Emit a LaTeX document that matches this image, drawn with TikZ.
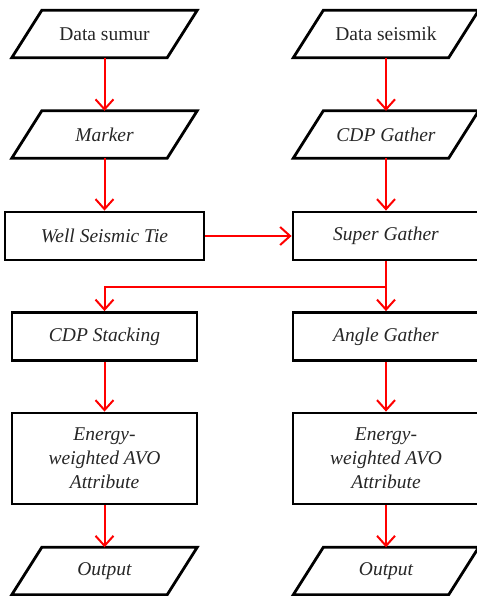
\documentclass[tikz,border=0pt]{standalone}
\usepackage{fontspec}
\setmainfont{Liberation Serif}
\usetikzlibrary{arrows.meta}
\tikzset{
  every node/.style={font=\fontsize{19.5}{24}\selectfont, text=black!85, align=center},
  para/.style={minimum width=155, minimum height=47, inner sep=0},
  paraline/.style={draw=black, line width=2.8, line join=miter},
  box/.style={draw=black, line width=2.8, inner sep=0, minimum height=48},
  flow/.style={draw=red, line width=2, -{Straight Barb[length=10pt, width=18pt, line width=2pt]}},
}
\newcommand{\paraoutline}[1]{%
  \draw[paraline] ([xshift=15]#1.north west) -- ([xshift=15]#1.north east)
    -- ([xshift=-15]#1.south east) -- ([xshift=-15]#1.south west) -- cycle;}
\begin{document}
\begin{tikzpicture}[x=1pt, y=-1pt]
\useasboundingbox (0,0) rectangle (476,596);
% left column
\node[para] (sumur) at (104.5,34) {Data sumur};
\node[para] (marker) at (104.5,134.5) {\itshape Marker};
\node[box, minimum width=199] (wst) at (104.5,236) {\itshape Well Seismic Tie};
\node[box, minimum width=185] (cdps) at (104.5,336.5) {\itshape CDP Stacking};
\node[box, minimum width=185, minimum height=91] (ewl) at (104.5,458.5) {\itshape Energy-\\\itshape weighted AVO\\\itshape Attribute};
\node[para] (outl) at (104.5,571) {\itshape Output};
% right column
\node[para] (seis) at (386,34) {Data seismik};
\node[para] (cdpg) at (386,134.5) {\itshape CDP Gather};
\node[box, minimum width=186] (sg) at (386,236) {\itshape Super Gather};
\node[box, minimum width=186] (ag) at (386,336.5) {\itshape Angle Gather};
\node[box, minimum width=186, minimum height=91] (ewr) at (386,458.5) {\itshape Energy-\\\itshape weighted AVO\\\itshape Attribute};
\node[para] (outr) at (386,571) {\itshape Output};
\paraoutline{sumur}
\paraoutline{marker}
\paraoutline{outl}
\paraoutline{seis}
\paraoutline{cdpg}
\paraoutline{outr}
\coordinate (br) at (386,287);
\coordinate (bl) at (104.5,287);
% connectors
\draw[flow] (sumur.south) -- (marker.north);
\draw[flow] (marker.south) -- (wst.north);
\draw[flow] (seis.south) -- (cdpg.north);
\draw[flow] (cdpg.south) -- (sg.north);
\draw[flow] (wst.east) -- (sg.west);
\draw[flow] (sg.south) -- (ag.north);
\draw[flow] (br) -- (bl) -- (cdps.north);
\draw[flow] (cdps.south) -- (ewl.north);
\draw[flow] (ag.south) -- (ewr.north);
\draw[flow] (ewl.south) -- (outl.north);
\draw[flow] (ewr.south) -- (outr.north);
\end{tikzpicture}
\end{document}
